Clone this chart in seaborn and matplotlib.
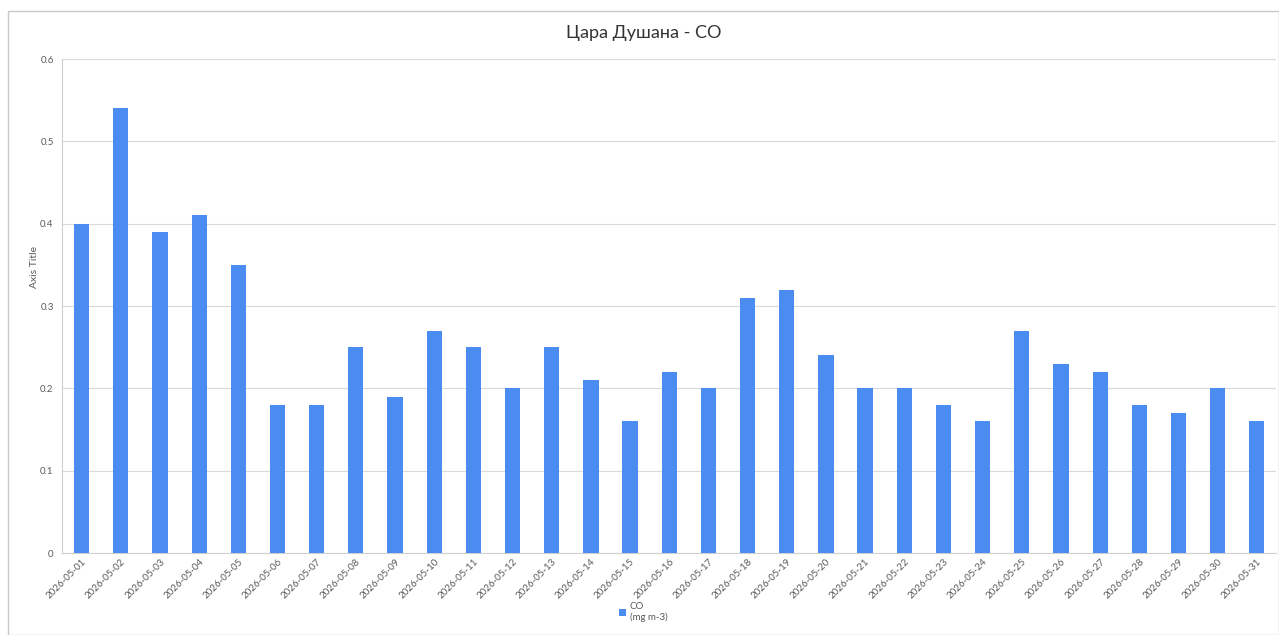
import matplotlib
matplotlib.use('Agg')
import matplotlib.pyplot as plt
import seaborn as sns
import pandas as pd
from matplotlib.patches import Rectangle

# Data
dates = ['2026-05-%02d' % d for d in range(1, 32)]
co_values = [0.40, 0.54, 0.39, 0.41, 0.35, 0.18, 0.18, 0.25, 0.19, 0.27,
             0.25, 0.20, 0.25, 0.21, 0.16, 0.22, 0.20, 0.31, 0.32, 0.24,
             0.20, 0.20, 0.18, 0.16, 0.27, 0.23, 0.22, 0.18, 0.17, 0.20,
             0.16]
y_ticks = [0, 0.1, 0.2, 0.3, 0.4, 0.5, 0.6]
y_tick_labels = ['0', '0.1', '0.2', '0.3', '0.4', '0.5', '0.6']

df = pd.DataFrame({'date': dates, 'co': co_values})

sns.set_style('white')
plt.rcParams['font.family'] = ['Lato', 'DejaVu Sans']

fig = plt.figure(figsize=(12.79, 6.35), dpi=100)
ax = fig.add_axes([0.0485, 0.129, 0.9495, 0.778])

bar_color = '#4a8cf0'
sns.barplot(data=df, x='date', y='co', color=bar_color, width=0.39,
            saturation=1, ax=ax, label='CO\n(mg m-3)', zorder=3, linewidth=0)

ax.set_ylim(0, 0.6)
ax.set_xlim(-0.5, len(dates) - 0.5)
ax.set_yticks(y_ticks)
ax.set_yticklabels(y_tick_labels)
ax.yaxis.grid(True, color='#d9d9d9', linewidth=0.8, zorder=0)
ax.xaxis.grid(False)

for side in ['top', 'right']:
    ax.spines[side].set_visible(False)
for side in ['left', 'bottom']:
    ax.spines[side].set_color('#cfcfcf')
    ax.spines[side].set_linewidth(0.8)

ax.tick_params(axis='y', labelsize=7, colors='#595959', length=0, pad=6)
ax.tick_params(axis='x', labelsize=7, colors='#595959', length=0, pad=3)
plt.setp(ax.get_xticklabels(), rotation=45, ha='right', rotation_mode='anchor')

ax.set_xlabel('')
ax.set_ylabel('Axis Title', fontsize=7.5, color='#595959')
ax.yaxis.set_label_coords(-0.019, 0.58)

fig.text(0.503, 0.948, 'Цара Душана - CO', fontsize=13, color='#333333',
         ha='center', va='center')

leg = ax.legend(loc='center', bbox_to_anchor=(0.503, 0.036),
                bbox_transform=fig.transFigure, frameon=False, fontsize=7,
                handlelength=0.7, handleheight=0.7, handletextpad=0.4)
for t in leg.get_texts():
    t.set_color('#595959')

# Chart frame
fig.patches.append(Rectangle((0.006, 0.0), 0.994, 0.982, transform=fig.transFigure,
                             fill=False, edgecolor='#c8c8c8', linewidth=1.0))

fig.savefig('out.png', dpi=100, facecolor='white')
